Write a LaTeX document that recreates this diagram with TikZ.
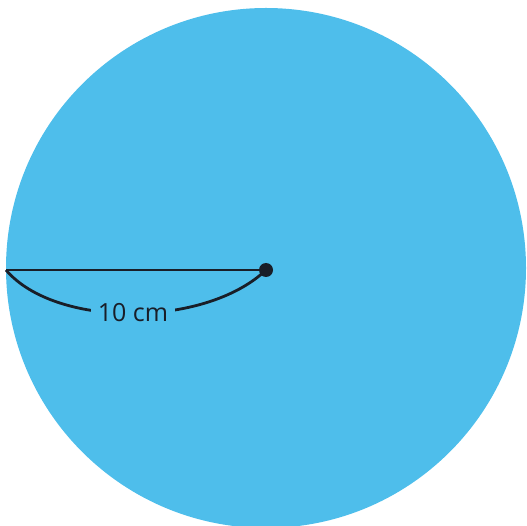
\documentclass[tikz,border=0pt]{standalone}
\usepackage{fontspec}
\setmainfont{Open Sans}
\definecolor{discblue}{RGB}{78,190,235}
\definecolor{inkline}{RGB}{25,30,40}
\begin{document}
\begin{tikzpicture}[x=1pt,y=-1pt,
  radiusline/.style={draw=inkline,line width=2.8pt},
  bracecurve/.style={draw=inkline,line width=2.8pt},
  lbl/.style={fill=discblue,inner xsep=7pt,inner ysep=2pt,font=\fontsize{25}{28}\selectfont,text=inkline}]
\useasboundingbox (0,0) rectangle (527,526);
\fill[discblue] (266,268) circle (260);
\coordinate (C) at (266,270);
\coordinate (E) at (6,270);
\draw[radiusline] (E) -- (C);
\draw[bracecurve] (E) .. controls (55,328) and (205,328) .. (C);
\node[lbl] (L) at (133,313) {10 cm};
\fill[inkline] (C) circle (7);
\end{tikzpicture}
\end{document}
